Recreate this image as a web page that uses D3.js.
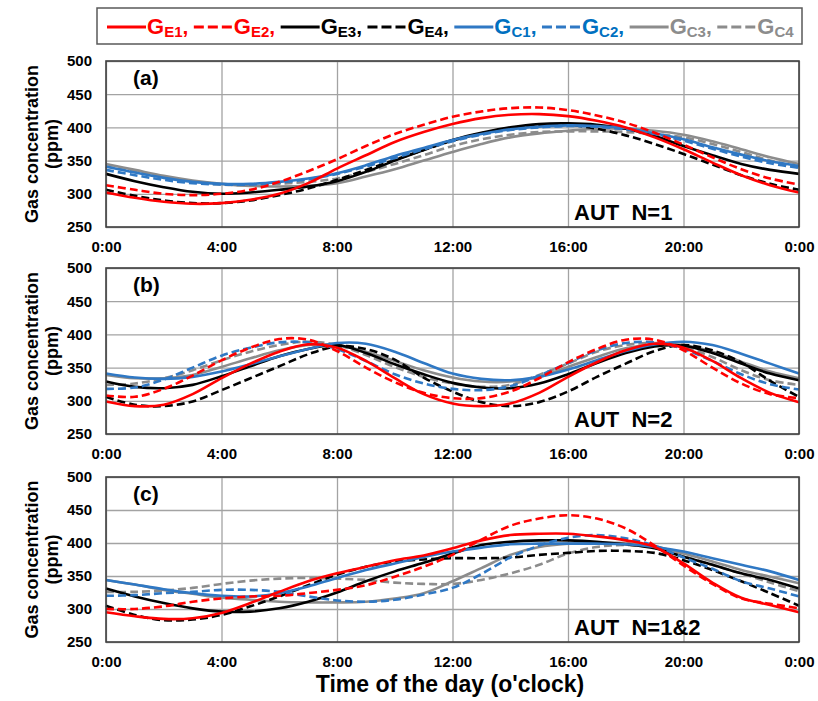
<!DOCTYPE html>
<html><head><meta charset="utf-8">
<script src="https://cdn.jsdelivr.net/npm/d3@7"></script>
<style>
html,body{margin:0;padding:0;background:#fff;}
svg{display:block;font-family:"Liberation Sans",Arial,Helvetica,sans-serif;}
</style></head><body>
<svg id="chart" width="818" height="701"></svg>
<script>
// ---------- DATA ----------
const hours = [0,1,2,3,4,5,6,7,8,9,10,11,12,13,14,15,16,17,18,19,20,21,22,23,24];
const xTickValues = [0,4,8,12,16,20,24];
const xTickLabels = ["0:00","4:00","8:00","12:00","16:00","20:00","0:00"];
const yTicks = [250,300,350,400,450,500];
const seriesKeys = ["E1","E2","E3","E4","C1","C2","C3","C4"];
const panelLabels = ["(a)","(b)","(c)"];
const panelTags = ["AUT  N=1","AUT  N=2","AUT  N=1&2"];

// Panel (a) AUT N=1
const A_E1 = [302,294,288,285,286,291,300,316,338,358,378,393,405,414,419,420,417,410,400,385,367,347,328,313,302];
const A_E2 = [313,306,300,298,300,306,318,334,352,372,390,404,416,424,429,430,426,418,407,392,374,355,337,323,314];
const A_E3 = [330,319,310,303,300,302,306,311,319,333,350,366,381,392,400,405,406,404,398,387,372,358,345,336,330];
const A_E4 = [306,297,290,286,286,290,298,308,321,336,351,366,380,391,399,403,404,398,388,375,360,344,328,315,306];
const A_C1 = [341,332,324,318,315,315,318,323,331,343,357,369,381,390,397,401,403,402,399,391,382,370,359,349,342];
const A_C2 = [336,328,321,316,314,314,317,322,330,341,354,367,379,389,396,400,402,401,397,390,380,368,356,346,339];
const A_C3 = [345,336,327,320,315,312,311,312,316,326,337,350,363,375,385,391,395,398,398,395,389,379,367,355,345];
const A_C4 = [341,333,325,318,314,313,315,318,323,333,345,358,372,382,389,393,394,394,393,390,385,375,363,350,340];

// Panel (b) AUT N=2
const B_E1 = [299,292,294,310,334,356,374,385,380,360,334,310,296,292,296,312,336,358,376,386,380,360,334,312,298];
const B_E2 = [308,306,318,338,361,380,393,392,375,350,328,312,304,304,314,334,358,378,392,392,376,350,326,310,304];
const B_E3 = [329,321,319,324,337,352,367,378,384,372,355,340,327,320,319,326,340,357,372,382,383,372,356,341,331];
const B_E4 = [306,294,292,299,316,334,352,370,382,378,362,335,314,298,292,298,314,336,356,375,384,376,358,330,306];
const B_C1 = [341,335,333,336,344,355,367,378,387,386,374,357,341,333,331,336,347,361,375,385,389,384,371,356,341];
const B_C2 = [318,320,332,350,368,380,388,388,378,360,340,326,318,316,322,338,357,376,387,388,378,360,340,325,317];
const B_C3 = [339,334,334,339,351,364,376,384,384,374,360,346,335,329,329,336,351,366,379,385,384,374,359,344,334];
const B_C4 = [324,326,334,346,361,374,384,389,384,369,351,336,326,321,324,339,356,374,384,387,381,366,346,331,324];

// Panel (c) AUT N=1&2
const C_E1 = [295,289,285,286,294,309,326,342,354,364,374,381,392,404,412,414,414,410,404,394,369,340,317,306,295];
const C_E2 = [300,300,304,311,316,319,320,324,329,336,349,364,382,405,426,437,442,437,422,396,366,338,316,308,301];
const C_E3 = [331,319,309,301,296,296,301,311,325,342,357,370,384,397,402,404,404,402,398,392,379,367,354,344,331];
const C_E4 = [305,291,283,284,291,304,319,336,352,364,372,375,377,377,378,382,385,388,388,385,374,359,342,324,305];
const C_C1 = [344,337,330,324,320,319,324,334,347,359,369,379,387,393,398,399,399,399,398,394,387,377,367,357,344];
const C_C2 = [320,321,324,326,329,329,326,319,313,311,314,322,332,353,378,396,408,412,407,396,378,361,342,331,319];
const C_C3 = [344,337,329,323,317,314,311,310,310,311,316,324,342,362,382,394,399,400,400,395,384,372,359,349,339];
const C_C4 = [326,326,328,332,338,343,346,347,346,344,340,338,338,344,354,367,384,394,397,393,380,367,354,340,327];

// ---------- STYLE ----------
const style = {
  E1:{line:"#ff0000", text:"#ff0000", dash:null},
  E2:{line:"#ff0000", text:"#ff0000", dash:"8,4"},
  E3:{line:"#000000", text:"#000000", dash:null},
  E4:{line:"#000000", text:"#000000", dash:"8,4"},
  C1:{line:"#2f78c4", text:"#0070c0", dash:null},
  C2:{line:"#2f78c4", text:"#0070c0", dash:"8,4"},
  C3:{line:"#8c8c8c", text:"#8c8c8c", dash:null},
  C4:{line:"#8c8c8c", text:"#8c8c8c", dash:"8,4"}
};
const drawOrder = ["C4","C3","E4","E3","C2","C1","E2","E1"];

const panelData = [
  {E1:A_E1,E2:A_E2,E3:A_E3,E4:A_E4,C1:A_C1,C2:A_C2,C3:A_C3,C4:A_C4},
  {E1:B_E1,E2:B_E2,E3:B_E3,E4:B_E4,C1:B_C1,C2:B_C2,C3:B_C3,C4:B_C4},
  {E1:C_E1,E2:C_E2,E3:C_E3,E4:C_E4,C1:C_C1,C2:C_C2,C3:C_C3,C4:C_C4}
];
const panelBox = [{top:61,bottom:227},{top:268,bottom:434},{top:477,bottom:642}];

const svg = d3.select("#chart");
svg.append("rect").attr("width",818).attr("height",701).attr("fill","#fff");

const L = 106, R = 799;
const x = d3.scaleLinear().domain([0,24]).range([L,R]);

panelData.forEach((pd, pi) => {
  const {top,bottom} = panelBox[pi];
  const y = d3.scaleLinear().domain([250,500]).range([bottom,top]);
  const g = svg.append("g");

  // grid lines
  g.append("g").attr("transform",`translate(${L},0)`)
    .call(d3.axisLeft(y).tickValues(yTicks).tickSize(-(R-L)).tickFormat(""))
    .call(s=>s.select(".domain").remove())
    .selectAll("line").attr("stroke","#a3a3a3").attr("stroke-width",1.3);
  g.append("g").attr("transform",`translate(0,${bottom})`)
    .call(d3.axisBottom(x).tickValues(xTickValues).tickSize(-(bottom-top)).tickFormat(""))
    .call(s=>s.select(".domain").remove())
    .selectAll("line").attr("stroke","#a3a3a3").attr("stroke-width",1.3);

  // series
  const line = d3.line().x((d,i)=>x(hours[i])).y(d=>y(d)).curve(d3.curveCatmullRom.alpha(0.5));
  drawOrder.forEach(k => {
    g.append("path").attr("d", line(pd[k]))
      .attr("fill","none").attr("stroke",style[k].line).attr("stroke-width",2.6)
      .attr("stroke-dasharray",style[k].dash).attr("stroke-linecap","butt");
  });

  // border
  g.append("rect").attr("x",L).attr("y",top).attr("width",R-L).attr("height",bottom-top)
    .attr("fill","none").attr("stroke","#404040").attr("stroke-width",1.6);

  // axes labels
  const ya = g.append("g").attr("transform",`translate(${L},0)`)
    .call(d3.axisLeft(y).tickValues(yTicks).tickSize(0).tickPadding(14).tickFormat(d3.format("d")));
  ya.select(".domain").remove();
  ya.selectAll("text").attr("font-size",15).attr("font-weight","bold").attr("fill","#000")
    .attr("font-family","Liberation Sans, Arial, sans-serif");
  const xa = g.append("g").attr("transform",`translate(0,${bottom})`)
    .call(d3.axisBottom(x).tickValues(xTickValues).tickSize(0).tickPadding(14).tickFormat((d,i)=>xTickLabels[i]));
  xa.select(".domain").remove();
  xa.selectAll("text").attr("font-size",15).attr("font-weight","bold").attr("fill","#000")
    .attr("font-family","Liberation Sans, Arial, sans-serif");

  // y title
  const cy = (top+bottom)/2;
  g.append("text").attr("transform",`translate(38,${cy}) rotate(-90)`).attr("text-anchor","middle")
    .attr("font-size",18).attr("font-weight","bold").text("Gas concentration");
  g.append("text").attr("transform",`translate(58,${cy}) rotate(-90)`).attr("text-anchor","middle")
    .attr("font-size",18).attr("font-weight","bold").text("(ppm)");

  // panel label
  g.append("text").attr("x",133).attr("y",top+24).attr("font-size",21).attr("font-weight","bold").text(panelLabels[pi]);
  // tag
  g.append("text").attr("x",574).attr("y",bottom-7).attr("font-size",22).attr("font-weight","bold")
    .style("white-space","pre").text(panelTags[pi]);
});

// x title
svg.append("text").attr("x",450).attr("y",692).attr("text-anchor","middle")
  .attr("font-size",23).attr("font-weight","bold").text("Time of the day (o'clock)");

// legend
const lg = svg.append("g");
lg.append("rect").attr("x",97).attr("y",8).attr("width",705).attr("height",36)
  .attr("fill","#fff").attr("stroke","#595959").attr("stroke-width",1.5);
let cx = 107;
seriesKeys.forEach((k,i) => {
  lg.append("line").attr("x1",cx).attr("x2",cx+39).attr("y1",27).attr("y2",27)
    .attr("stroke",style[k].line).attr("stroke-width",3)
    .attr("stroke-dasharray", style[k].dash ? "10,4" : null);
  const t = lg.append("text").attr("x",cx+40).attr("y",34).attr("font-weight","bold").attr("fill",style[k].text);
  t.append("tspan").attr("font-size",22).text("G");
  t.append("tspan").attr("font-size",15).attr("dy",3).text(k);
  if (i < seriesKeys.length-1) t.append("tspan").attr("font-size",21).attr("dy",-3).text(",");
  cx = cx + 40 + t.node().getComputedTextLength() + 5.5;
});
</script>
</body></html>
